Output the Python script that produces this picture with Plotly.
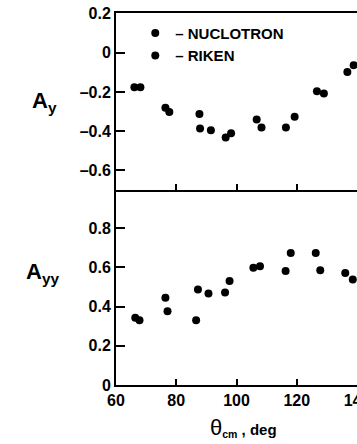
import plotly.graph_objects as go

# ---- data ----
theta_ay_nuc = [66.1, 76.4, 87.7, 87.9, 91.5, 96.4, 106.7, 108.3, 116.4, 119.3, 126.7, 136.8]
ay_nuc = [-0.176, -0.281, -0.313, -0.386, -0.395, -0.432, -0.340, -0.381, -0.381, -0.327, -0.196, -0.098]
theta_ay_rik = [68.1, 77.7, 98.2, 129.0, 138.9]
ay_rik = [-0.176, -0.302, -0.410, -0.208, -0.064]

theta_ayy_nuc = [66.4, 76.4, 86.6, 87.2, 90.7, 96.2, 105.6, 116.3, 118.0, 126.3, 127.8, 136.1]
ayy_nuc = [0.343, 0.445, 0.331, 0.488, 0.467, 0.472, 0.598, 0.582, 0.674, 0.674, 0.586, 0.572]
theta_ayy_rik = [67.8, 77.1, 97.7, 107.8, 138.6]
ayy_rik = [0.331, 0.377, 0.531, 0.606, 0.539]

x_ticks = [60, 80, 100, 120, 140]
ay_ticks = [-0.6, -0.4, -0.2, 0, 0.2]
ay_ticktext = ["\u20130.6", "\u20130.4", "\u20130.2", "0", "0.2"]
ayy_ticks = [0, 0.2, 0.4, 0.6, 0.8]
ayy_ticktext = ["0", "0.2", "0.4", "0.6", "0.8"]

FONT = "Liberation Sans"
mk = dict(color="black", size=8, symbol="circle")

fig = go.Figure()
fig.add_trace(go.Scatter(x=theta_ay_nuc, y=ay_nuc, mode="markers", marker=mk,
                         name="\u2013 NUCLOTRON", xaxis="x2", yaxis="y2"))
fig.add_trace(go.Scatter(x=theta_ay_rik, y=ay_rik, mode="markers", marker=mk,
                         name="\u2013 RIKEN", xaxis="x2", yaxis="y2"))
fig.add_trace(go.Scatter(x=theta_ayy_nuc, y=ayy_nuc, mode="markers", marker=mk,
                         showlegend=False, xaxis="x", yaxis="y"))
fig.add_trace(go.Scatter(x=theta_ayy_rik, y=ayy_rik, mode="markers", marker=mk,
                         showlegend=False, xaxis="x", yaxis="y"))

tickfont = dict(family=FONT, size=16, color="black", weight="bold")
axcommon = dict(showline=True, linecolor="black", linewidth=2, showgrid=False,
                zeroline=False, ticks="inside", tickcolor="black", tickwidth=2,
                ticklabeloverflow="allow", automargin=False)

split = 0.524
fig.update_layout(
    width=357, height=444,
    margin=dict(l=116, r=0, t=13, b=59),
    paper_bgcolor="white", plot_bgcolor="white",
    showlegend=True,
    legend=dict(x=0.08, y=0.99, xanchor="left", yanchor="top",
                bgcolor="rgba(0,0,0,0)",
                font=dict(family=FONT, size=15, color="black", weight="bold"),
                tracegroupgap=0),
    xaxis=dict(domain=[0, 1], range=[60, 140], tickvals=x_ticks, anchor="y",
               ticklen=6, tickfont=tickfont, **axcommon),
    xaxis2=dict(domain=[0, 1], range=[60, 140], tickvals=x_ticks, anchor="y2",
                matches="x", ticklen=6, showticklabels=False, mirror=True, **axcommon),
    yaxis=dict(domain=[0, split], range=[0, 0.995], tickvals=ayy_ticks,
               ticktext=ayy_ticktext, anchor="x", ticklen=9, tickfont=tickfont, **axcommon),
    yaxis2=dict(domain=[split, 1], range=[-0.70, 0.202], tickvals=ay_ticks,
                ticktext=ay_ticktext, anchor="x2", ticklen=9, tickfont=tickfont, **axcommon),
    annotations=[
        dict(text="<b>A<sub>y</sub></b>", xref="paper", yref="paper", x=-0.295, y=0.76,
             xanchor="center", yanchor="middle", showarrow=False,
             font=dict(family=FONT, size=22, color="black")),
        dict(text="<b>A<sub>yy</sub></b>", xref="paper", yref="paper", x=-0.305, y=0.30,
             xanchor="center", yanchor="middle", showarrow=False,
             font=dict(family=FONT, size=22, color="black")),
        dict(text="<span style='font-size:22px'>\u03b8</span><b><sub>cm</sub> , deg</b>",
             xref="paper", yref="paper", x=0.53, y=-0.115,
             xanchor="center", yanchor="middle", showarrow=False,
             font=dict(family=FONT, size=15, color="black")),
    ],
)

fig.write_html("out.html")
